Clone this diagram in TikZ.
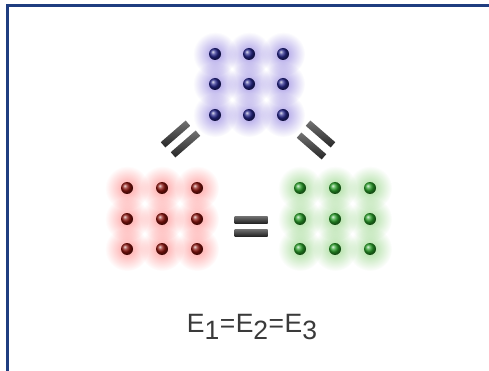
\documentclass[tikz,border=0pt]{standalone}
\usepackage{fontspec}
\setmainfont{Liberation Sans}
\usetikzlibrary{fadings}
\tikzfading[name=glowfade, inner color=transparent!0, outer color=transparent!100]
\definecolor{navy}{RGB}{31,61,128}
\definecolor{txtgray}{RGB}{58,58,58}
\definecolor{blueball}{RGB}{38,38,140}
\definecolor{redball}{RGB}{140,18,12}
\definecolor{greenball}{RGB}{40,160,40}
\definecolor{blueglow}{RGB}{115,95,215}
\definecolor{redglow}{RGB}{255,105,105}
\definecolor{greenglow}{RGB}{115,200,95}
\begin{document}
\begin{tikzpicture}[x=1pt,y=-1pt,
  glow/.style={fill=#1, path fading=glowfade, fill opacity=0.62},
  dotball/.style={circle, minimum size=12pt, inner sep=0pt, shading=ball, ball color=#1},
  eqbar/.style={rectangle, minimum width=33pt, minimum height=7pt, inner sep=0pt,
    top color=black!55, bottom color=black!85, draw=none},
  label/.style={font=\fontsize{26.5}{28}\selectfont, text=txtgray, inner sep=0pt}]
\useasboundingbox (0,0) rectangle (489,371);
\fill[white] (0,0) rectangle (489,371);
% frame (only top and left edges visible)
\draw[navy, line width=3pt] (7,371) -- (7,6) -- (489,6);
% glows
\foreach \x in {215,249,283}{\foreach \y in {54,84,115}{
  \fill[glow=blueglow] (\x,\y) circle (22);}}
\foreach \x in {127,162,197}{\foreach \y in {188,219,249}{
  \fill[glow=redglow] (\x,\y) circle (22);}}
\foreach \x in {300,335,370}{\foreach \y in {188,219,249}{
  \fill[glow=greenglow] (\x,\y) circle (22);}}
% balls
\foreach \x/\i in {215/1,249/2,283/3}{\foreach \y/\j in {54/1,84/2,115/3}{
  \node[dotball=blueball] (b\i\j) at (\x,\y) {};}}
\foreach \x/\i in {127/1,162/2,197/3}{\foreach \y/\j in {188/1,219/2,249/3}{
  \node[dotball=redball] (r\i\j) at (\x,\y) {};}}
\foreach \x/\i in {300/1,335/2,370/3}{\foreach \y/\j in {188/1,219/2,249/3}{
  \node[dotball=greenball] (g\i\j) at (\x,\y) {};}}
% equals signs
\node[eqbar] (h1) at (251,219.5) {};
\node[eqbar] (h2) at (251,232.5) {};
\node[eqbar, rotate=41] (l1) at (175.5,134) {};
\node[eqbar, rotate=41] (l2) at (185.5,144) {};
\node[eqbar, rotate=-41] (q1) at (320.5,134) {};
\node[eqbar, rotate=-41] (q2) at (311.5,146) {};
% label
\node[label] (eq) at (252,327)
  {E\raisebox{-7pt}{1}\kern0.5pt=\kern0.5pt E\raisebox{-7pt}{2}\kern0.5pt=\kern0.5pt E\raisebox{-7pt}{3}};
\end{tikzpicture}
\end{document}
